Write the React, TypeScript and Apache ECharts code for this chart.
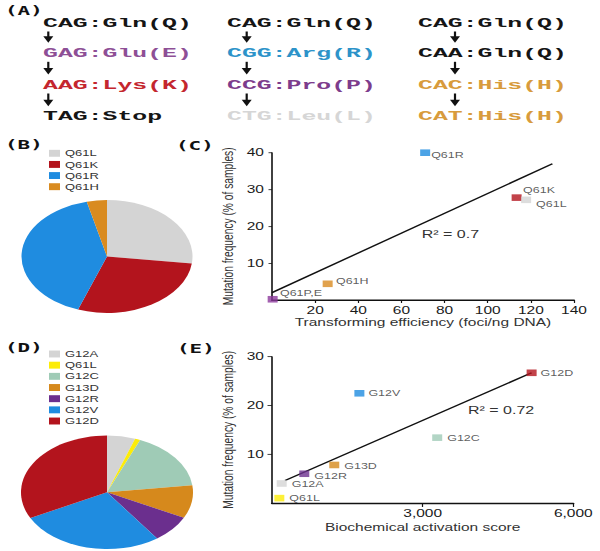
import React, { useEffect, useRef } from 'react';
import * as echarts from 'echarts';

// ---------- page geometry (the reference is vertically squashed) ----------
const W = 600;
const H = 835;
const SY = 551 / H;
const sy = (v: number) => v / SY;
const SANS = '"Liberation Sans", Arial, sans-serif';

// ---------- Panel A: codon substitutions ----------
const codonColumns: string[][] = [
  ['CAG:Gln(Q)', 'GAG:Glu(E)', 'AAG:Lys(K)', 'TAG:Stop'],
  ['CAG:Gln(Q)', 'CGG:Arg(R)', 'CCG:Pro(P)', 'CTG:Leu(L)'],
  ['CAG:Gln(Q)', 'CAA:Gln(Q)', 'CAC:His(H)', 'CAT:His(H)'],
];

// ---------- Panel B: Q61 pie ----------
const q61PieNames = ['Q61L', 'Q61K', 'Q61R', 'Q61H'];
const q61PieShares = [27, 28.5, 40.7, 3.8];

// ---------- Panel C: Q61 scatter ----------
const q61PointNames = ['Q61R', 'Q61K', 'Q61L', 'Q61H', 'Q61P,E'];
const q61Transforming = [71, 113.4, 117.8, 25.8, 0.3];
const q61Frequency = [40, 27.8, 27.2, 4.4, 0.2];
const q61FitX = [0, 130];
const q61FitY = [2, 37];
const q61R2 = 'R² = 0.7';
const cXMax = 140;
const cXStep = 20;
const cYMax = 40;
const cYStep = 10;

// ---------- Panel D: codon 12/13/61 pie ----------
const g12PieNames = ['G12A', 'Q61L', 'G12C', 'G13D', 'G12R', 'G12V', 'G12D'];
const g12PieShares = [5.3, 1, 16.7, 9.4, 7.7, 27.4, 32.5];

// ---------- Panel E: biochemical scatter ----------
const g12PointNames = ['G12D', 'G12V', 'G12C', 'G13D', 'G12R', 'G12A', 'Q61L'];
const g12Activation = [5170, 1740, 3290, 1240, 643, 193, 146];
const g12Frequency = [26.7, 22.5, 13.4, 7.8, 6.0, 4.0, 1.0];
const g12FitX = [260, 5170];
const g12FitY = [4.6, 26.7];
const g12R2 = 'R² = 0.72';
const eXMax = 6000;
const eXStep = 3000;
const eYMax = 30;
const eYStep = 10;

// ---------- styles ----------
const codonColors: string[][] = [
  ['#151515', '#8e4f96', '#c4262e', '#151515'],
  ['#151515', '#2d93c9', '#7d3c8c', '#d6d6d6'],
  ['#151515', '#151515', '#d89b3c', '#d89b3c'],
];
const pieBColors: Record<string, string> = {
  Q61L: '#d4d4d4',
  Q61K: '#b3141d',
  Q61R: '#1f8ce0',
  Q61H: '#d98b20',
};
const pieDColors: Record<string, string> = {
  G12A: '#d4d4d4',
  Q61L: '#fcec08',
  G12C: '#9fcbb6',
  G13D: '#d6891c',
  G12R: '#6b2f8e',
  G12V: '#1f8ce0',
  G12D: '#b3141d',
};
const pointCColors: Record<string, string> = {
  Q61R: '#1f8ce0',
  Q61K: '#b3141d',
  Q61L: '#d4d4d4',
  Q61H: '#d98b20',
  'Q61P,E': '#8c3a9c',
};
const labelOffsetC: Record<string, number[]> = {
  Q61R: [-4, 3.5],
  Q61K: [-3.5, -12],
  Q61L: [0, 6],
  Q61H: [-1.7, -5],
  'Q61P,E': [-2.7, -10],
};
const labelOffsetE: Record<string, number[]> = {
  G12D: [-1, 0],
  G12V: [-1, 0],
  G12C: [0, 0],
  G13D: [0, 1.5],
  G12R: [0, 2.5],
  G12A: [0, 1],
  Q61L: [0, 0],
};

const TICK_FONT = 15.5;
const POINT_FONT = 12.5;
const LEGEND_FONT = 13;
const LEGEND_ROW = 13; // rendered height of one legend row (design px)

function axisCommon() {
  return {
    type: 'value' as const,
    splitLine: { show: false },
    axisLine: { show: true, onZero: false, lineStyle: { color: '#111', width: 1.6 } },
    axisTick: { show: true, length: 3.5, lineStyle: { color: '#111', width: 1.2 } },
    axisLabel: { fontSize: TICK_FONT, color: '#1a1a1a', fontFamily: SANS, showMinLabel: false },
    nameLocation: 'middle' as const,
    nameTextStyle: { fontSize: 15.5, color: '#333', fontFamily: SANS },
  };
}

function buildOption() {
  const graphic: any[] = [];

  // panel letters
  const panelLetters = [
    { t: '(A)', x: 5, y: 11 },
    { t: '(B)', x: 5, y: 145 },
    { t: '(C)', x: 176, y: 146 },
    { t: '(D)', x: 5, y: 348 },
    { t: '(E)', x: 177, y: 349 },
  ];
  panelLetters.forEach((p) =>
    graphic.push({
      type: 'text',
      x: p.x,
      y: sy(p.y),
      scaleX: 1.1,
      style: {
        text: p.t,
        fontFamily: '"DejaVu Sans Mono", monospace',
        fontWeight: 'bold',
        fontSize: 19,
        fill: '#111',
        verticalAlign: 'middle',
      },
    })
  );

  // codons
  const colX = [43, 227, 418];
  const rowY = [23, 53.3, 85, 116.7];
  const arrowX = [48.3, 246.7, 455];
  codonColumns.forEach((col, c) => {
    col.forEach((txt, r) => {
      graphic.push({
        type: 'text',
        x: colX[c],
        y: sy(rowY[r]),
        scaleX: 1.24,
        style: {
          text: txt,
          fontFamily: '"Liberation Mono", "Courier New", monospace',
          fontWeight: 'bold',
          fontSize: 20,
          fill: codonColors[c][r],
          verticalAlign: 'middle',
        },
      });
      if (r < col.length - 1) {
        const top = sy(rowY[r] + 8.5);
        const bot = sy(rowY[r + 1] - 10.5);
        const head = sy(6.5);
        graphic.push({
          type: 'line',
          shape: { x1: arrowX[c], y1: top, x2: arrowX[c], y2: bot - head + 1 },
          style: { stroke: '#111', lineWidth: 2.2 },
        });
        graphic.push({
          type: 'polygon',
          shape: {
            points: [
              [arrowX[c] - 5, bot - head],
              [arrowX[c] + 5, bot - head],
              [arrowX[c], bot],
            ],
          },
          style: { fill: '#111' },
        });
      }
    });
  });

  // R² annotations
  graphic.push({
    type: 'text',
    x: 421.7,
    y: sy(234),
    style: { text: q61R2, fontSize: 16, fontFamily: SANS, fill: '#333', verticalAlign: 'middle' },
  });
  graphic.push({
    type: 'text',
    x: 468,
    y: sy(410.7),
    style: { text: g12R2, fontSize: 16, fontFamily: SANS, fill: '#333', verticalAlign: 'middle' },
  });

  const legendCommon = {
    orient: 'vertical' as const,
    left: 49,
    icon: 'rect',
    itemWidth: 11,
    itemHeight: 10.5,
    selectedMode: false,
    padding: 0,
    textStyle: { fontSize: LEGEND_FONT, color: '#333', fontFamily: SANS, lineHeight: LEGEND_ROW },
  };

  return {
    animation: false,
    backgroundColor: '#fff',
    textStyle: { fontFamily: SANS },
    graphic,
    legend: [
      {
        ...legendCommon,
        top: sy(153.3) - LEGEND_ROW / 2,
        itemGap: sy(11.13) - LEGEND_ROW,
        data: q61PieNames.map((n) => ({ name: n, itemStyle: { color: pieBColors[n] } })),
      },
      {
        ...legendCommon,
        top: sy(354) - LEGEND_ROW / 2,
        itemGap: sy(11.17) - LEGEND_ROW,
        data: g12PieNames.map((n) => ({ name: n, itemStyle: { color: pieDColors[n] } })),
      },
    ],
    grid: [
      { left: 272, top: sy(152.7), width: 302, height: sy(300) - sy(152.7) },
      { left: 272, top: sy(356.7), width: 301.3, height: sy(503) - sy(356.7) },
    ],
    xAxis: [
      {
        ...axisCommon(),
        gridIndex: 0,
        min: 0,
        max: cXMax,
        interval: cXStep,
        axisLine: { show: true, onZero: false, lineStyle: { color: '#111', width: 2.3 } },
        axisTick: { show: true, length: 4.5, lineStyle: { color: '#111', width: 1.2 } },
        axisLabel: { ...axisCommon().axisLabel, margin: 8 },
        name: 'Transforming efficiency (foci/ng DNA)',
        nameGap: 26,
      },
      {
        ...axisCommon(),
        gridIndex: 1,
        min: 0,
        max: eXMax,
        interval: eXStep,
        axisLine: { show: true, onZero: false, lineStyle: { color: '#111', width: 2.3 } },
        axisTick: { show: true, length: 6, lineStyle: { color: '#111', width: 1.2 } },
        axisLabel: {
          ...axisCommon().axisLabel,
          margin: 8,
          formatter: (v: number) => v.toLocaleString('en-US'),
        },
        name: 'Biochemical activation score',
        nameGap: 29,
      },
    ],
    yAxis: [
      {
        ...axisCommon(),
        gridIndex: 0,
        min: 0,
        max: cYMax,
        interval: cYStep,
        axisLabel: { ...axisCommon().axisLabel, margin: 8 },
        name: 'Mutation frequency (% of samples)',
        nameGap: 31,
        nameTextStyle: { fontSize: 15.5, color: '#333', fontFamily: SANS },
      },
      {
        ...axisCommon(),
        gridIndex: 1,
        min: 0,
        max: eYMax,
        interval: eYStep,
        axisTick: { show: true, length: 4.5, lineStyle: { color: '#111', width: 1.2 } },
        axisLabel: { ...axisCommon().axisLabel, margin: 8 },
        name: 'Mutation frequency (% of samples)',
        nameGap: 31,
        nameTextStyle: { fontSize: 15.5, color: '#333', fontFamily: SANS },
      },
    ],
    series: [
      {
        type: 'pie',
        name: 'B',
        center: [107, sy(256.5)],
        radius: 85.5,
        startAngle: 90,
        clockwise: true,
        silent: true,
        label: { show: false },
        labelLine: { show: false },
        itemStyle: { borderWidth: 0 },
        data: q61PieNames.map((n, i) => ({
          name: n,
          value: q61PieShares[i],
          itemStyle: { color: pieBColors[n] },
        })),
      },
      {
        type: 'pie',
        name: 'D',
        center: [107, sy(492.3)],
        radius: 86,
        startAngle: 90,
        clockwise: true,
        silent: true,
        label: { show: false },
        labelLine: { show: false },
        itemStyle: { borderWidth: 0 },
        data: g12PieNames.map((n, i) => ({
          name: n,
          value: g12PieShares[i],
          itemStyle: { color: pieDColors[n] },
        })),
      },
      {
        type: 'line',
        xAxisIndex: 0,
        yAxisIndex: 0,
        showSymbol: false,
        silent: true,
        z: 1,
        lineStyle: { color: '#111', width: 2 },
        data: q61FitX.map((x, i) => [x, q61FitY[i]]),
      },
      {
        type: 'line',
        xAxisIndex: 1,
        yAxisIndex: 1,
        showSymbol: false,
        silent: true,
        z: 1,
        lineStyle: { color: '#111', width: 2 },
        data: g12FitX.map((x, i) => [x, g12FitY[i]]),
      },
      {
        type: 'scatter',
        xAxisIndex: 0,
        yAxisIndex: 0,
        symbol: 'rect',
        symbolSize: [10, 10],
        silent: true,
        z: 3,
        data: q61PointNames.map((n, i) => ({
          name: n,
          value: [q61Transforming[i], q61Frequency[i]],
          itemStyle: { color: pointCColors[n] },
          label: {
            show: true,
            formatter: '{b}',
            position: 'right',
            offset: labelOffsetC[n],
            fontSize: POINT_FONT,
            color: '#333',
            fontFamily: SANS,
          },
        })),
      },
      {
        type: 'scatter',
        xAxisIndex: 1,
        yAxisIndex: 1,
        symbol: 'rect',
        symbolSize: [10, 10],
        silent: true,
        z: 3,
        data: g12PointNames.map((n, i) => ({
          name: n,
          value: [g12Activation[i], g12Frequency[i]],
          itemStyle: { color: pieDColors[n] },
          label: {
            show: true,
            formatter: '{b}',
            position: 'right',
            offset: labelOffsetE[n],
            fontSize: POINT_FONT,
            color: '#333',
            fontFamily: SANS,
          },
        })),
      },
    ],
  };
}

export default function App() {
  const ref = useRef<HTMLDivElement>(null);
  useEffect(() => {
    if (!ref.current) return;
    const chart = echarts.init(ref.current, null, { renderer: 'svg', width: W, height: H });
    chart.setOption(buildOption() as any);
    return () => chart.dispose();
  }, []);
  return (
    <div
      style={{
        position: 'fixed',
        left: 0,
        top: 0,
        width: W,
        height: 551,
        overflow: 'hidden',
        background: '#fff',
      }}
    >
      <div
        ref={ref}
        style={{ width: W, height: H, transform: `scaleY(${SY})`, transformOrigin: '0 0' }}
      />
    </div>
  );
}
